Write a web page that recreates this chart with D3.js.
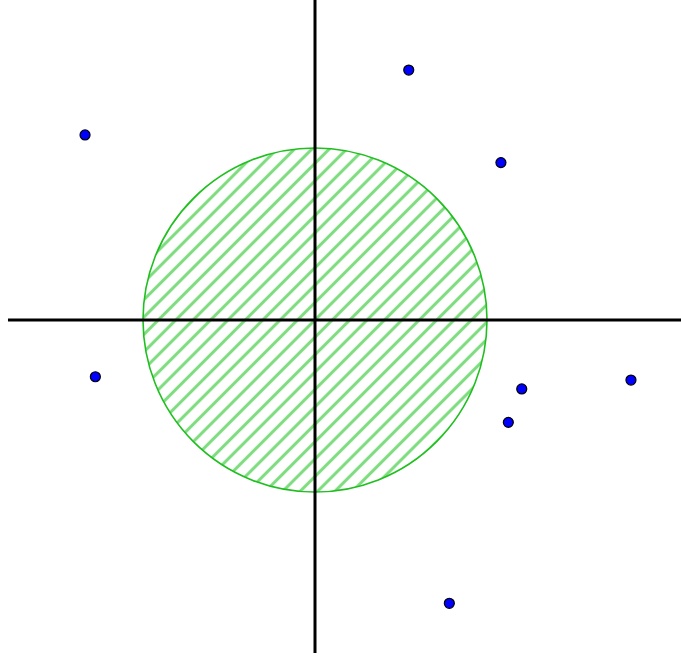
<!DOCTYPE html>
<html>
<head>
<meta charset="utf-8">
<script src="https://cdn.jsdelivr.net/npm/d3@7"></script>
<style>
  html, body { margin: 0; padding: 0; background: #fff; }
  svg { display: block; }
</style>
</head>
<body>
<svg id="chart" width="681" height="659"></svg>
<script>
// Data (units: circle radius = 1)
const pointX = [-1.337, 0.545, 1.081, -1.277, 1.202, 1.837, 1.124, 0.781];
const pointY = [1.076, 1.453, 0.915, -0.330, -0.401, -0.349, -0.595, -1.647];
const circleCenter = [0, 0];
const circleRadius = 1;
const xAxisExtent = [-1.785, 2.128];
const yAxisExtent = [-1.936, 1.860];

const svg = d3.select("#chart");
const x = d3.scaleLinear().domain([-1, 1]).range([143, 487]);
const y = d3.scaleLinear().domain([-1, 1]).range([492, 148]);

// hatch pattern
const defs = svg.append("defs");
const pat = defs.append("pattern")
  .attr("id", "hatch")
  .attr("patternUnits", "userSpaceOnUse")
  .attr("width", 12.3).attr("height", 12.3)
  .attr("patternTransform", "rotate(45)");
pat.append("rect")
  .attr("x", 4.6).attr("y", 0).attr("width", 3.1).attr("height", 12.3)
  .attr("fill", "#80dc80");

const rPx = x(circleRadius) - x(0);
svg.append("circle")
  .attr("cx", x(circleCenter[0])).attr("cy", y(circleCenter[1]))
  .attr("r", rPx)
  .attr("fill", "url(#hatch)")
  .attr("stroke", "#1fbf1f").attr("stroke-width", 1.6);

// axes
svg.append("line")
  .attr("x1", x(xAxisExtent[0])).attr("x2", x(xAxisExtent[1]))
  .attr("y1", y(0)).attr("y2", y(0))
  .attr("stroke", "#000").attr("stroke-width", 3);
svg.append("line")
  .attr("x1", x(0)).attr("x2", x(0))
  .attr("y1", y(yAxisExtent[1])).attr("y2", y(yAxisExtent[0]))
  .attr("stroke", "#000").attr("stroke-width", 3);

// points
svg.append("g").selectAll("circle")
  .data(d3.range(pointX.length))
  .join("circle")
  .attr("cx", i => x(pointX[i]))
  .attr("cy", i => y(pointY[i]))
  .attr("r", 5)
  .attr("fill", "#0000ff")
  .attr("stroke", "#000")
  .attr("stroke-width", 1.2);
</script>
</body>
</html>
